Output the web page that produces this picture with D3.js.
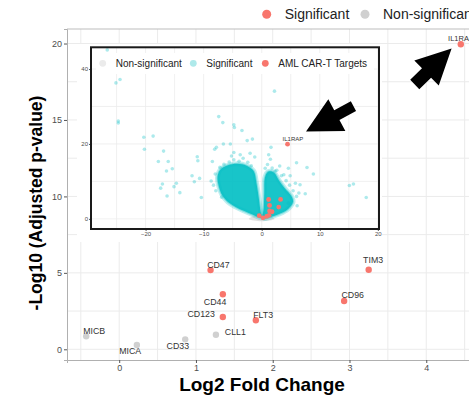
<!DOCTYPE html>
<html>
<head>
<meta charset="utf-8">
<script src="https://cdn.jsdelivr.net/npm/d3@7"></script>
<style>
  body { margin: 0; background: #fff; }
  svg { display: block; font-family: "Liberation Sans", Arial, sans-serif; }
</style>
</head>
<body>
<svg id="chart" width="469" height="398"></svg>
<script>
// main panel: AML CAR-T targets
var targets   = ["CD47", "TIM3", "CD44", "CD96", "CD123", "FLT3", "CLL1", "MICB", "MICA", "CD33", "IL1RAP"];
var log2fc    = [1.19, 3.25, 1.35, 2.93, 1.35, 1.78, 1.26, -0.43, 0.23, 0.86, 4.45];
var negLogP   = [5.18, 5.2, 3.6, 3.16, 2.11, 1.9, 0.95, 0.85, 0.28, 0.65, 19.95];
var isSig     = [true, true, true, true, true, true, false, false, false, false, true];
// label nudges (px): dx, dy, anchor
var labelNudge = [[-3.4, -2.1, "start"], [-5.6, -7.2, "start"], [-19, 10.7, "start"], [-2.6, -2.7, "start"],
                  [-8, -0.4, "end"], [-2.7, -1.9, "start"], [8.9, 0.2, "start"], [-3, -2.3, "start"],
                  [-17.7, 9, "start"], [-18.6, 9.6, "start"], [-12.7, -3.3, "start"]];

var xTicks = [0, 1, 2, 3, 4];
var yTicks = [0, 5, 10, 15, 20];
var legendLabels = ["Significant", "Non-significant"];

// inset: full volcano
var insetXTicks = [-20, -10, 0, 10, 20];
var insetYTicks = [0, 20, 40];
var insetLegend = ["Non-significant", "Significant", "AML CAR-T Targets"];
// dense cloud outlines [log2fc, -log10 p]
var leftCloud = [[-0.1, 0.3], [-1.5, 1.1], [-3, 2.1], [-4.5, 3.2], [-5.8, 4.5], [-6.8, 6.3], [-7.4, 8.8],
                 [-7.6, 11.3], [-7.1, 13.2], [-5.8, 14.3], [-4.2, 14.7], [-2.6, 14.2], [-1.4, 12.8],
                 [-0.9, 9.5], [-0.5, 5.5], [-0.2, 2], [0, 0.6]];
var rightCloud = [[0.2, 0.7], [0.35, 3], [0.45, 7], [0.55, 11], [1.1, 12.6], [2.1, 12.4], [3, 10.2],
                  [4, 8.1], [5.1, 6.1], [5.4, 4.6], [4.5, 2.6], [3, 1.3], [1.5, 0.5], [0.4, 0.15]];
var greyCloud = [[-2.2, 0], [-1.2, 0.9], [0, 1.3], [1.2, 0.9], [2.2, 0], [0, -0.6]];
// scattered significant genes
var sigFc = [-26.6, -25.1, -24.4, -24.7, -24.7, -20.3, -18.7, -20.2, -16.9, -17.8, -16.1, -15.4, -16.4,
             -17.4, -17.1, -16.3, -15.1, -14.7, -14.1, -12, -11.6, -11.1, -11, -10.7, -10.4, -8.7, -8.5,
             -8.1, -7.8, -7.4, -6.7, -6.6, -5.4, -4.8, -4.7, -3.4, -2.5, -1.6, -4.8, -3.7, 2.2, 1.6, 1.2,
             1.5, 3.1, 4.6, 6, 7.8, 8.9, 4.9, 5.8, 6.6, 6.4, 7.5, 6.1, 15.1, 15.8, 18,
             -7.2, -6.5, -5.6, -4.8, -3.9, -3.2, -2.4, -1.8, -8.0, -8.3, -7.9, -6.9, -1.2, -2.0, -5.2,
             0.6, 1.0, 1.8, 2.6, 3.4, 4.2, 4.8, 5.4, 6.0, 4.6, 3.8, 2.3];
var sigP  = [45.1, 36.3, 37.2, 26.1, 25.6, 21.8, 22.1, 18.6, 18.1, 15.3, 15.3, 13.4, 12.8,
             8.2, 9.3, 6.1, 8.6, 9.5, 7.0, 11.5, 9.9, 16.6, 15.5, 10.8, 5.7, 10.1, 15.3,
             18.6, 19.1, 27.3, 25.7, 20, 20, 25.1, 24.4, 23.6, 20.9, 21.3, 17.7, 17.1, 34.1, 19.1, 17.1,
             15.9, 14.1, 13.5, 15, 13.7, 12, 11.5, 9.5, 9.1, 6.9, 6.7, 3.5, 8.9, 9.3, 5.7,
             13.8, 14.6, 15.2, 15.8, 15.4, 16.2, 15.1, 14.2, 12.0, 9.0, 7.5, 5.8, 16.5, 17.5, 16.8,
             13.5, 14.5, 13.6, 13, 11.5, 10.2, 9, 7.5, 6.0, 4.2, 11.8, 12.8];

var red = "#f8766d", grey = "#d0d0d0", cyan = "#00bfc4";
var svg = d3.select("#chart");

// ---------- main panel ----------
var pL = 67, pT = 29, pB = 360, pR = 480;
var x = d3.scaleLinear().domain([-0.68, 4.7]).range([pL, pR]);
var y = d3.scaleLinear().domain([-0.7, 20.95]).range([pB, pT]);

var grid = svg.append("g").attr("stroke", "#ebebeb").attr("stroke-width", 1);
d3.range(-0.5, 4.75, 0.5).forEach(function(v) {
  grid.append("line").attr("x1", x(v)).attr("x2", x(v)).attr("y1", pT).attr("y2", pB);
});
d3.range(0, 21, 2.5).forEach(function(v) {
  grid.append("line").attr("x1", pL).attr("x2", pR).attr("y1", y(v)).attr("y2", y(v));
});
svg.append("line").attr("x1", pL).attr("x2", pR).attr("y1", pT).attr("y2", pT)
  .attr("stroke", "#bdbdbd");

var xAxis = svg.append("g").attr("transform", "translate(0," + pB + ")")
  .call(d3.axisBottom(x).tickValues(xTicks).tickFormat(d3.format("d")).tickSize(3).tickPadding(2));
var yAxis = svg.append("g").attr("transform", "translate(" + pL + ",0)")
  .call(d3.axisLeft(y).tickValues(yTicks).tickFormat(d3.format("d")).tickSize(3).tickPadding(2));
[xAxis, yAxis].forEach(function(a) {
  a.select(".domain").attr("stroke", "#b0b0b0");
  a.selectAll(".tick line").attr("stroke", "#555");
  a.selectAll(".tick text").attr("fill", "#4d4d4d").style("font-size", "9px")
    .style("font-family", "Liberation Sans, Arial, sans-serif");
});

svg.append("text").attr("x", 262).attr("y", 391).attr("text-anchor", "middle")
  .style("font-size", "19px").style("font-weight", "bold").text("Log2 Fold Change");
svg.append("text").attr("transform", "translate(42,203) rotate(-90)").attr("text-anchor", "middle")
  .style("font-size", "17.5px").style("font-weight", "bold").text("-Log10 (Adjusted p-value)");

// legend on top
var legX = [266.7, 365];
legendLabels.forEach(function(lab, i) {
  svg.append("circle").attr("cx", legX[i]).attr("cy", 14.3).attr("r", 4.5)
    .attr("fill", i === 0 ? red : grey);
  svg.append("text").attr("x", legX[i] + 18).attr("y", 19.2)
    .style("font-size", "14px").attr("fill", "#222").text(lab);
});

// target points + labels
var pts = targets.map(function(t, i) {
  return { name: t, fc: log2fc[i], p: negLogP[i], sig: isSig[i], nudge: labelNudge[i] };
});
svg.selectAll("circle.pt").data(pts).enter().append("circle")
  .attr("class", "pt")
  .attr("cx", function(d) { return x(d.fc); })
  .attr("cy", function(d) { return y(d.p); })
  .attr("r", 3.2)
  .attr("fill", function(d) { return d.sig ? red : grey; });
svg.selectAll("text.lab").data(pts).enter().append("text")
  .attr("class", "lab")
  .attr("x", function(d) { return x(d.fc) + d.nudge[0]; })
  .attr("y", function(d) { return y(d.p) + d.nudge[1]; })
  .attr("text-anchor", function(d) { return d.nudge[2]; })
  .style("font-size", function(d) { return d.name === "IL1RAP" ? "7.5px" : "8.8px"; })
  .attr("fill", "#333")
  .text(function(d) { return d.name; });

function arrow(g, tail, tip, headLen, headW, shaftW) {
  var dx = tip[0] - tail[0], dy = tip[1] - tail[1];
  var len = Math.sqrt(dx * dx + dy * dy);
  var ux = dx / len, uy = dy / len, nx = -uy, ny = ux;
  var bx = tip[0] - ux * headLen, by = tip[1] - uy * headLen;
  var p = [
    [tail[0] + nx * shaftW / 2, tail[1] + ny * shaftW / 2],
    [bx + nx * shaftW / 2, by + ny * shaftW / 2],
    [bx + nx * headW / 2, by + ny * headW / 2],
    tip,
    [bx - nx * headW / 2, by - ny * headW / 2],
    [bx - nx * shaftW / 2, by - ny * shaftW / 2],
    [tail[0] - nx * shaftW / 2, tail[1] - ny * shaftW / 2]
  ];
  g.append("polygon").attr("points", p.map(function(q) { return q.join(","); }).join(" "))
    .attr("fill", "#000");
}
// main arrow pointing at IL1RAP
arrow(svg, [x(3.85), y(17.32)], [x(4.33), y(19.67)], 35, 35, 13);

// ---------- inset ----------
var il = 91, ir = 379, it = 47.3, ib = 229;
var xi = d3.scaleLinear().domain([-29.4, 20.2]).range([il, ir]);
var yi = d3.scaleLinear().domain([-2.7, 45.8]).range([ib, it]);
var inset = svg.append("g");
inset.append("rect").attr("x", 77).attr("y", 44).attr("width", 305).attr("height", 198).attr("fill", "#fff");

var ig = inset.append("g").attr("stroke", "#ececec").attr("stroke-width", 0.8);
d3.range(-25, 20.1, 5).forEach(function(v) {
  ig.append("line").attr("x1", xi(v)).attr("x2", xi(v)).attr("y1", it).attr("y2", ib);
});
d3.range(0, 45, 10).forEach(function(v) {
  ig.append("line").attr("x1", il).attr("x2", ir).attr("y1", yi(v)).attr("y2", yi(v));
});

var lineGen = d3.line().x(function(d) { return xi(d[0]); }).y(function(d) { return yi(d[1]); })
  .curve(d3.curveCatmullRomClosed);
inset.append("path").attr("d", lineGen(greyCloud)).attr("fill", "#d9d9d9").attr("opacity", 0.8);
[leftCloud, rightCloud].forEach(function(c) {
  // soft fringe, then solid core
  inset.append("path").attr("d", lineGen(c)).attr("fill", "none")
    .attr("stroke", cyan).attr("stroke-opacity", 0.25).attr("stroke-width", 5);
  inset.append("path").attr("d", lineGen(c)).attr("fill", cyan).attr("opacity", 0.9)
    .attr("stroke", cyan).attr("stroke-opacity", 0.4).attr("stroke-width", 2);
});
inset.selectAll("circle.sig").data(sigFc).enter().append("circle")
  .attr("class", "sig")
  .attr("cx", function(d) { return xi(d); })
  .attr("cy", function(d, i) { return yi(sigP[i]); })
  .attr("r", 1.8).attr("fill", cyan).attr("opacity", 0.32);
inset.selectAll("circle.tg").data(pts).enter().append("circle")
  .attr("class", "tg")
  .attr("cx", function(d) { return xi(d.fc); })
  .attr("cy", function(d) { return yi(d.p); })
  .attr("r", 2.4).attr("fill", red);
inset.append("text").attr("x", xi(4.45) - 5).attr("y", yi(19.95) - 3)
  .style("font-size", "6px").attr("fill", "#333").text("IL1RAP");

// inset legend
inset.append("rect").attr("x", 96).attr("y", 53).attr("width", 278).attr("height", 21).attr("fill", "#fff");
var ilX = [102.7, 193.3, 265.3];
var ilCol = ["#ebebeb", "#aee9ea", red];
insetLegend.forEach(function(lab, i) {
  inset.append("circle").attr("cx", ilX[i]).attr("cy", 63.3).attr("r", 3.4).attr("fill", ilCol[i]);
  inset.append("text").attr("x", ilX[i] + 13).attr("y", 66.8)
    .style("font-size", "10px").attr("fill", "#222").text(lab);
});

// inset axes + frame
var ixa = inset.append("g").attr("transform", "translate(0," + ib + ")")
  .call(d3.axisBottom(xi).tickValues(insetXTicks).tickSize(2).tickPadding(1));
var iya = inset.append("g").attr("transform", "translate(" + il + ",0)")
  .call(d3.axisLeft(yi).tickValues(insetYTicks).tickSize(2).tickPadding(1));
[ixa, iya].forEach(function(a) {
  a.select(".domain").remove();
  a.selectAll(".tick line").attr("stroke", "#555");
  a.selectAll(".tick text").attr("fill", "#4d4d4d").style("font-size", "6px")
    .style("font-family", "Liberation Sans, Arial, sans-serif");
});
inset.append("rect").attr("x", il).attr("y", it).attr("width", ir - il).attr("height", ib - it)
  .attr("fill", "none").attr("stroke", "#1a1a1a").attr("stroke-width", 2);

// inset arrow
arrow(inset, [xi(15.8), yi(30.1)], [xi(7.63), yi(23.3)], 35, 36, 11);
</script>
</body>
</html>
